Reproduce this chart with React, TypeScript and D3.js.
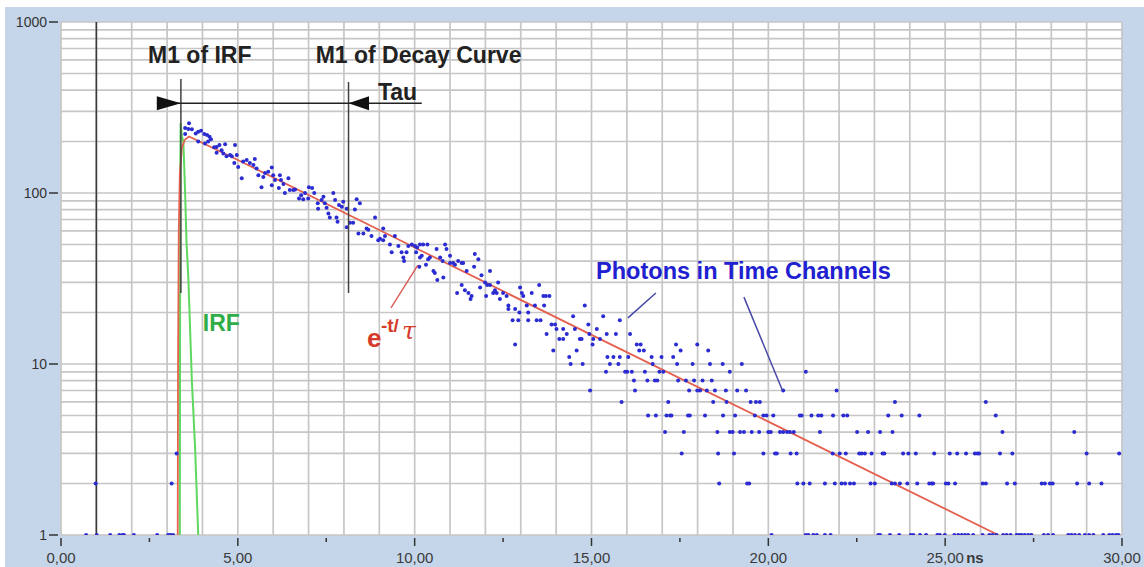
import React from 'react';
import * as d3 from 'd3';

// time axis (ns) and counts axis (log)
const xTickValues = [0, 5, 10, 15, 20, 25, 30];
const xTickLabels = ['0,00', '5,00', '10,00', '15,00', '20,00', '25,00', '30,00'];
const yTickValues = [1, 10, 100, 1000];
const yTickLabels = ['1', '10', '100', '1000'];

// photons in time channels: [time ns, counts], counts >= 7
const decayPhotons: [number, number][] = [
  [3.51, 240], [3.51, 221], [3.60, 237], [3.62, 256], [3.70, 236], [3.81, 223], [3.88, 228], [3.88, 200],
  [3.96, 231], [4.05, 221], [4.07, 195], [4.13, 218], [4.16, 200], [4.20, 213], [4.24, 206], [4.33, 185],
  [4.40, 186], [4.40, 172], [4.48, 191], [4.54, 178], [4.59, 170], [4.64, 193], [4.68, 164], [4.78, 167],
  [4.83, 164], [4.90, 150], [4.92, 191], [4.97, 167], [5.01, 142], [5.11, 122], [5.15, 153], [5.25, 156],
  [5.34, 150], [5.44, 146], [5.48, 158], [5.53, 139], [5.58, 127], [5.67, 108], [5.72, 124], [5.77, 131],
  [5.86, 133], [5.96, 141], [5.96, 111], [6.00, 127], [6.05, 119], [6.16, 107], [6.19, 127], [6.22, 119],
  [6.29, 113], [6.33, 100], [6.43, 122], [6.47, 104], [6.57, 104], [6.62, 105], [6.73, 93], [6.79, 97],
  [6.85, 92], [6.90, 100], [6.99, 93], [7.01, 108], [7.10, 107], [7.16, 100], [7.26, 87], [7.27, 81],
  [7.37, 91], [7.42, 95], [7.46, 87], [7.51, 82], [7.56, 76], [7.60, 72], [7.70, 100], [7.75, 91],
  [7.79, 72], [7.82, 68], [7.86, 85], [7.94, 83], [7.98, 89], [8.08, 81], [8.08, 63], [8.17, 67],
  [8.26, 67], [8.31, 80], [8.36, 92], [8.41, 58], [8.45, 87], [8.55, 58], [8.64, 62], [8.69, 61],
  [8.78, 56], [8.88, 72], [8.97, 53], [9.02, 54], [9.11, 53], [9.11, 62], [9.16, 56], [9.30, 50],
  [9.35, 45], [9.44, 56], [9.54, 49], [9.63, 45], [9.68, 42], [9.70, 40], [9.77, 45], [9.82, 49],
  [9.92, 50], [10.01, 49], [10.04, 45], [10.07, 48], [10.13, 37], [10.15, 50], [10.15, 42], [10.20, 43],
  [10.24, 50], [10.32, 38], [10.36, 50], [10.38, 41], [10.43, 42], [10.53, 35], [10.57, 34], [10.62, 47],
  [10.64, 31], [10.72, 42], [10.79, 40], [10.81, 32], [10.86, 50], [10.90, 47], [11.00, 43], [11.00, 39],
  [11.09, 39], [11.14, 38], [11.20, 26], [11.23, 40], [11.33, 39], [11.33, 29], [11.37, 39], [11.42, 27],
  [11.47, 35], [11.52, 26], [11.58, 24], [11.61, 25], [11.68, 37], [11.70, 44], [11.80, 41], [11.85, 28],
  [11.89, 33], [11.99, 30], [12.02, 25], [12.05, 29], [12.13, 29], [12.13, 35], [12.22, 26], [12.27, 27],
  [12.32, 26], [12.36, 30], [12.41, 24], [12.50, 26], [12.60, 25], [12.65, 22], [12.65, 21], [12.77, 18],
  [12.84, 21], [12.84, 13], [12.93, 18], [12.96, 20], [12.98, 28], [13.03, 26], [13.07, 25], [13.17, 22],
  [13.21, 20], [13.21, 18], [13.31, 26], [13.40, 22], [13.45, 18], [13.52, 29], [13.56, 18], [13.64, 25],
  [13.66, 22], [13.71, 25], [13.73, 15], [13.81, 25], [13.87, 17], [13.92, 12], [13.97, 17], [14.01, 16],
  [14.09, 14], [14.20, 16], [14.20, 14], [14.30, 15], [14.37, 11], [14.41, 10], [14.48, 19], [14.53, 16],
  [14.58, 12], [14.67, 14], [14.72, 14], [14.75, 10], [14.81, 22], [14.91, 17], [14.94, 15], [14.96, 7],
  [15.03, 13], [15.05, 14], [15.15, 16], [15.24, 14], [15.33, 19], [15.41, 9], [15.43, 15], [15.45, 11],
  [15.52, 10], [15.62, 11], [15.69, 15], [15.76, 10], [15.80, 18], [15.80, 11], [15.95, 9], [16.01, 9],
  [16.04, 11], [16.09, 15], [16.14, 9], [16.20, 8], [16.23, 7], [16.28, 13], [16.35, 12], [16.39, 13],
  [16.48, 12], [16.51, 9], [16.58, 8], [16.70, 11], [16.73, 10], [16.79, 8], [16.86, 8], [16.92, 9],
  [16.98, 11], [17.03, 9], [17.31, 11], [17.39, 13], [17.42, 10], [17.45, 8], [17.52, 12], [17.67, 8],
  [17.76, 7], [17.86, 10], [17.90, 8], [17.99, 13], [17.99, 7], [18.07, 7], [18.14, 8], [18.26, 7],
  [18.30, 12], [18.35, 10], [18.40, 8], [18.49, 7], [18.71, 10], [18.80, 7], [18.91, 9], [19.12, 7],
  [19.25, 10], [19.37, 7], [20.42, 7], [21.06, 9], [21.93, 7],
];

// channels with low counts, listed by count level (time ns)
const sixCounts = [15.85, 17.17, 18.44, 18.82, 19.50, 19.65, 19.76, 23.58, 26.15];
const fiveCounts = [16.60, 16.82, 17.12, 17.22, 17.26, 17.73, 17.78, 18.21, 18.72, 19.06, 19.62, 19.86, 19.95,
  20.14, 20.89, 20.94, 21.22, 21.41, 21.50, 21.83, 22.12, 22.23, 23.39, 23.77, 24.27, 26.43];
const fourCounts = [17.08, 17.61, 18.56, 18.91, 18.99, 19.20, 19.31, 19.53, 19.74, 20.00, 20.07, 20.33, 20.42,
  20.53, 20.61, 20.72, 21.46, 22.51, 22.82, 23.16, 23.51, 26.62, 28.65];
const threeCounts = [3.27, 17.55, 18.58, 19.03, 19.86, 20.19, 20.24, 20.63, 20.80, 21.82, 22.02, 22.19, 22.57,
  22.64, 22.73, 22.92, 23.23, 23.28, 23.81, 23.96, 24.17, 24.69, 25.13, 25.34, 25.59, 25.84, 25.91, 25.96,
  26.55, 26.90, 29.00, 29.92];
const twoCounts = [0.98, 3.13, 18.61, 19.40, 19.46, 20.82, 20.99, 21.17, 21.60, 21.88, 22.07, 22.17, 22.31,
  22.42, 22.89, 23.01, 23.49, 23.58, 23.72, 23.93, 24.21, 24.55, 24.62, 24.66, 25.02, 25.09, 25.28, 26.06,
  26.15, 26.75, 26.97, 27.73, 27.82, 27.96, 28.04, 28.73, 29.07, 29.42];
const oneCounts = [0.71, 1.01, 1.39, 1.65, 1.74, 1.78, 2.06, 2.72, 3.03, 3.10, 3.17, 20.09, 21.06, 21.13,
  21.27, 21.37, 21.60, 21.76, 23.11, 23.16, 23.44, 23.70, 24.03, 24.10, 24.29, 24.46, 24.78, 24.85, 24.99,
  25.26, 25.37, 25.47, 25.56, 25.65, 25.79, 26.06, 26.25, 26.34, 26.45, 26.64, 26.74, 26.85, 27.02, 27.09,
  27.16, 27.25, 27.35, 27.44, 27.79, 27.91, 28.05, 28.48, 28.57, 28.67, 28.79, 28.95, 29.07, 29.19, 29.47,
  29.64, 29.73, 29.83, 29.90];

// instrument response function and fitted decay e^-t/tau
const irfCurve: [number, number][] = [
  [3.36, 1], [3.37, 80], [3.38, 256], [3.42, 215], [3.46, 200], [3.51, 100], [3.55, 51], [3.60, 32],
  [3.70, 8], [3.79, 3.3], [3.88, 1],
];
const fitCurve: [number, number][] = [
  [3.30, 1], [3.31, 10], [3.33, 60], [3.36, 130], [3.42, 185], [3.50, 205], [3.62, 214], [5.0, 156],
  [10.0, 48], [15.0, 14.8], [20.0, 4.6], [26.5, 1],
];

// markers (time ns / counts)
const startLineT = 1.0;
const m1Irf = 3.39;
const m1Decay = 8.13;

const App = () => {
  const width = 1144;
  const height = 567;
  const plot = { left: 61, right: 1122, top: 22, bottom: 535 };
  const font = '"Liberation Sans", Arial, sans-serif';

  const x = d3.scaleLinear().domain([0, 30]).range([plot.left, plot.right]);
  const y = d3.scaleLog().domain([1, 1000]).range([plot.bottom, plot.top]);

  const vGrid = d3.range(0, 31, 1);
  const hGrid = y.ticks();
  const minorX = d3.range(2.5, 30, 5);

  const line = d3.line<[number, number]>().x(d => x(d[0])).y(d => y(d[1]));

  const lowRows: [number[], number][] = [
    [sixCounts, 6], [fiveCounts, 5], [fourCounts, 4], [threeCounts, 3], [twoCounts, 2], [oneCounts, 1],
  ];
  const allPhotons: [number, number][] = [
    ...decayPhotons,
    ...lowRows.flatMap(([ts, c]) => ts.map(t => [t, c] as [number, number])),
  ];

  // arrow geometry
  const arrowY = y(335);
  const arrowLeft = x(2.71);
  const arrowRight = x(10.2);
  const headLen = x(3.39) - x(2.71);
  const headHalf = 7;

  return (
    <svg width={width} height={height} style={{ position: 'absolute', left: 0, top: 0, background: '#fff' }}>
      <defs>
        <clipPath id="plotClip">
          <rect x={plot.left} y={plot.top - 4} width={plot.right - plot.left} height={plot.bottom - plot.top + 4} />
        </clipPath>
      </defs>
      <rect x={5} y={7} width={width - 5} height={height - 7} fill="#c5d6ea" />
      <rect x={plot.left} y={plot.top} width={plot.right - plot.left} height={plot.bottom - plot.top} fill="#fff" />

      {/* grid */}
      {hGrid.map(v => (
        <line key={`h-${v}`} x1={plot.left} x2={plot.right} y1={y(v)} y2={y(v)} stroke="#c6c6c6" strokeWidth={1.7} />
      ))}
      {vGrid.map(v => (
        <line key={`v-${v}`} x1={x(v)} x2={x(v)} y1={plot.top} y2={plot.bottom} stroke="#c6c6c6" strokeWidth={1.7} />
      ))}

      {/* y axis */}
      {yTickValues.map((v, i) => (
        <g key={`yt-${v}`}>
          <line x1={plot.left - 12} x2={plot.left - 3} y1={y(v)} y2={y(v)} stroke="#333" strokeWidth={1.5} />
          <text x={plot.left - 14} y={y(v)} dy="0.35em" textAnchor="end" fontFamily={font} fontSize={14} fill="#333">
            {yTickLabels[i]}
          </text>
        </g>
      ))}

      {/* x axis */}
      {xTickValues.map((v, i) => (
        <g key={`xt-${v}`}>
          <line x1={x(v)} x2={x(v)} y1={plot.bottom + 3} y2={plot.bottom + 11} stroke="#333" strokeWidth={1.5} />
          <text x={x(v)} y={plot.bottom + 28} textAnchor="middle" fontFamily={font} fontSize={15} fill="#3a3a3a">
            {xTickLabels[i]}
          </text>
        </g>
      ))}
      <text x={x(25) + 21} y={plot.bottom + 28} fontFamily={font} fontSize={15} fontWeight="bold" fill="#3a3a3a">ns</text>
      {minorX.map(v => (
        <line key={`xm-${v}`} x1={x(v)} x2={x(v)} y1={plot.bottom + 3} y2={plot.bottom + 7} stroke="#333" strokeWidth={1.5} />
      ))}

      {/* start marker */}
      <line x1={x(startLineT)} x2={x(startLineT)} y1={plot.top} y2={plot.bottom} stroke="#3a3a3a" strokeWidth={1.6} />

      {/* curves */}
      <g clipPath="url(#plotClip)">
        <path d={line(irfCurve) || ''} fill="none" stroke="#5fd85f" strokeWidth={2} />
        <path d={line(fitCurve) || ''} fill="none" stroke="#e5604f" strokeWidth={1.8} />
        {allPhotons.map((d, i) => (
          <circle key={`p-${i}`} cx={x(d[0])} cy={y(d[1])} r={2} fill="#2b2bd2" />
        ))}
      </g>

      {/* M1 markers and tau arrow */}
      <line x1={x(m1Irf)} x2={x(m1Irf)} y1={y(464)} y2={y(26)} stroke="#404040" strokeWidth={1.5} />
      <line x1={x(m1Decay)} x2={x(m1Decay)} y1={y(446)} y2={y(26)} stroke="#404040" strokeWidth={1.5} />
      <line x1={arrowLeft} x2={arrowRight} y1={arrowY} y2={arrowY} stroke="#222" strokeWidth={1.5} />
      <polygon
        points={`${x(m1Irf)},${arrowY} ${x(m1Irf) - headLen},${arrowY - headHalf} ${x(m1Irf) - headLen},${arrowY + headHalf}`}
        fill="#111"
      />
      <polygon
        points={`${x(m1Decay)},${arrowY} ${x(m1Decay) + headLen * 0.85},${arrowY - headHalf} ${x(m1Decay) + headLen * 0.85},${arrowY + headHalf}`}
        fill="#111"
      />

      <text x={x(2.46)} y={y(578)} fontFamily={font} fontSize={23} fontWeight="bold" fill="#222">M1 of IRF</text>
      <text x={x(7.2)} y={y(578)} fontFamily={font} fontSize={23} fontWeight="bold" fill="#222">M1 of Decay Curve</text>
      <text x={x(8.96)} y={y(350)} fontFamily={font} fontSize={23} fontWeight="bold" fill="#222">Tau</text>

      <text x={x(4.01)} y={y(15.6)} fontFamily={font} fontSize={23} fontWeight="bold" fill="#2fae48">IRF</text>

      {/* e^-t/tau label */}
      <line x1={x(9.33)} y1={y(21.3)} x2={x(10.09)} y2={y(37.9)} stroke="#d9534f" strokeWidth={1.3} />
      <text x={x(8.65)} y={y(12.6)} fontFamily={font} fontSize={26} fontWeight="bold" fill="#d63a2a">e</text>
      <text x={x(8.65) + 14} y={y(12.6) - 15} fontFamily={font} fontSize={19} fontWeight="bold" fill="#d63a2a">-t/</text>
      <text x={x(8.65) + 35} y={y(12.6) - 8} fontFamily='"DejaVu Serif", "Liberation Serif", serif' fontSize={25} fontStyle="italic" fill="#d63a2a">τ</text>

      {/* photons label */}
      <text x={x(15.13)} y={y(31.4)} fontFamily={font} fontSize={23.5} fontWeight="bold" fill="#2020d0">Photons in Time Channels</text>
      <line x1={x(16.82)} y1={y(26)} x2={x(16.03)} y2={y(18.6)} stroke="#4848a8" strokeWidth={1.5} />
      <line x1={x(19.31)} y1={y(24.6)} x2={x(20.4)} y2={y(7)} stroke="#4848a8" strokeWidth={1.5} />
    </svg>
  );
};

export default App;
